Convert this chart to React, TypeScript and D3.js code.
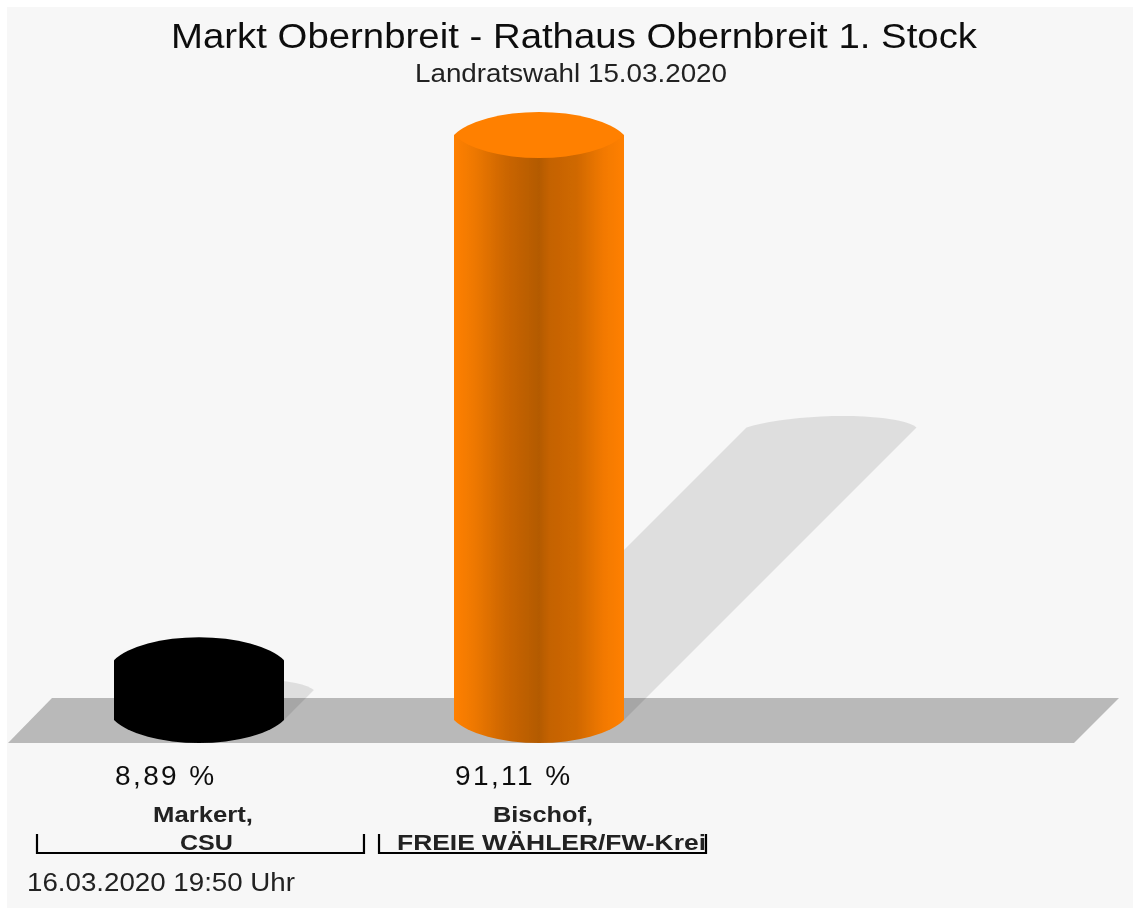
import React from 'react';
import * as d3 from 'd3';

const candidates = ['Markert,', 'Bischof,'];
const parties = ['CSU', 'FREIE WÄHLER/FW-Krei'];
const percents = [8.89, 91.11];
const percentLabels = ['8,89 %', '91,11 %'];
const title = 'Markt Obernbreit - Rathaus Obernbreit 1. Stock';
const subtitle = 'Landratswahl 15.03.2020';
const timestamp = '16.03.2020 19:50 Uhr';

const W = 1133;
const H = 908;
const baseY = 720;
// the caps are slices of a wider ellipse, so the corners come out pointed
const arcRx = 92;
const arcRy = 37.3;
const font = '"Liberation Sans", Arial, sans-serif';

const x = d3.scaleBand<string>().domain(candidates).range([29, 709]).paddingInner(0.5).paddingOuter(0.25);
const labelX = d3.scaleBand<string>().domain(candidates).range([37, 706]).paddingInner(0.044).paddingOuter(0);
const y = d3.scaleLinear().domain([0, 91.11]).range([717, 135]);

// shadow is the bar sheared 45 degrees and squashed to half height
const shadowLine = d3.line<[number, number]>();
const shadowPath = (left: number, w: number, h: number) => {
  const rx = w / 2;
  const a0 = Math.acos(rx / arcRx);
  const sag = arcRy * Math.sin(a0);
  const pts: [number, number][] = [[left, baseY]];
  d3.range(0, 21).forEach((k) => {
    const a = Math.PI - a0 - ((Math.PI - 2 * a0) * k) / 20;
    const u = left + rx + arcRx * Math.cos(a);
    const v = h - sag + arcRy * Math.sin(a);
    pts.push([u + v / 2, baseY - v / 2]);
  });
  pts.push([left + w, baseY]);
  return shadowLine(pts) + 'Z';
};

const arc = (sweep: number, toX: number, toY: number) => `A${arcRx},${arcRy} 0 0 ${sweep} ${toX},${toY}`;

const bodyPath = (left: number, w: number, top: number) =>
  `M${left},${top}L${left},${baseY}${arc(0, left + w, baseY)}L${left + w},${top}Z`;

const capPath = (left: number, w: number, top: number) =>
  `M${left},${top}${arc(1, left + w, top)}${arc(1, left, top)}Z`;

export default function App() {
  const bw = x.bandwidth();
  const fills = ['#000000', 'url(#orangeBody)'];
  const caps = ['#000000', '#ff8000'];
  const candidateLengths = [100, 100];
  const partyLengths = [53, 309];
  const partyX = [180, 397];
  const candidateX = [153, 493];
  return (
    <svg width={W} height={H} style={{ position: 'absolute', left: 0, top: 0, display: 'block' }}>
      <defs>
        <linearGradient id="orangeBody" x1="0" x2="1" y1="0" y2="0">
          <stop offset="0" stopColor="#ff8000" />
          <stop offset="0.12" stopColor="#ee7800" />
          <stop offset="0.3" stopColor="#cc6600" />
          <stop offset="0.5" stopColor="#b35a00" />
          <stop offset="0.56" stopColor="#c46200" />
          <stop offset="0.72" stopColor="#cf6800" />
          <stop offset="0.88" stopColor="#f27900" />
          <stop offset="1" stopColor="#ff8000" />
        </linearGradient>
        <filter id="soft" x="0" y="0" width="100%" height="100%">
          <feGaussianBlur stdDeviation="0.6" />
        </filter>
      </defs>
      <rect width={W} height={H} fill="#ffffff" />
      <rect x={7} y={7} width={W - 7} height={H - 7} fill="#f7f7f7" />
      <g filter="url(#soft)">
        <text x={171} y={48} textLength={806} lengthAdjust="spacingAndGlyphs" fontFamily={font} fontSize={35} fill="#111">{title}</text>
        <text x={415} y={82} textLength={312} lengthAdjust="spacingAndGlyphs" fontFamily={font} fontSize={25} fill="#222">{subtitle}</text>

        <path d="M8,743L52,698L1119,698L1074,743Z" fill="#b9b9b9" />

        {candidates.map((c, i) => (
          <path key={c} d={shadowPath(x(c)!, bw, baseY - y(percents[i]))} fill="#000" fillOpacity={0.1} />
        ))}
        {candidates.map((c, i) => {
          const left = x(c)!;
          const top = y(percents[i]);
          return (
            <g key={c}>
              <path d={bodyPath(left, bw, top)} fill={fills[i]} />
              <path d={capPath(left, bw, top)} fill={caps[i]} />
            </g>
          );
        })}

        {candidates.map((c, i) => (
          <text key={c} x={x(c)! + 1} y={785} fontFamily={font} fontSize={28} letterSpacing={2.4} fill="#111">{percentLabels[i]}</text>
        ))}

        {candidates.map((c, i) => {
          const l = labelX(c)!;
          const r = l + labelX.bandwidth();
          return (
            <g key={c}>
              <path d={`M${l},834V853H${r}V834`} fill="none" stroke="#000" strokeWidth={2.2} />
              <text x={candidateX[i]} y={822} textLength={candidateLengths[i]} lengthAdjust="spacingAndGlyphs" fontFamily={font} fontSize={22.5} fontWeight="bold" fill="#222">{c}</text>
              <text x={partyX[i]} y={850} textLength={partyLengths[i]} lengthAdjust="spacingAndGlyphs" fontFamily={font} fontSize={22.5} fontWeight="bold" fill="#222">{parties[i]}</text>
            </g>
          );
        })}

        <text x={27} y={891} textLength={268} lengthAdjust="spacingAndGlyphs" fontFamily={font} fontSize={26} fill="#222">{timestamp}</text>
      </g>
    </svg>
  );
}
